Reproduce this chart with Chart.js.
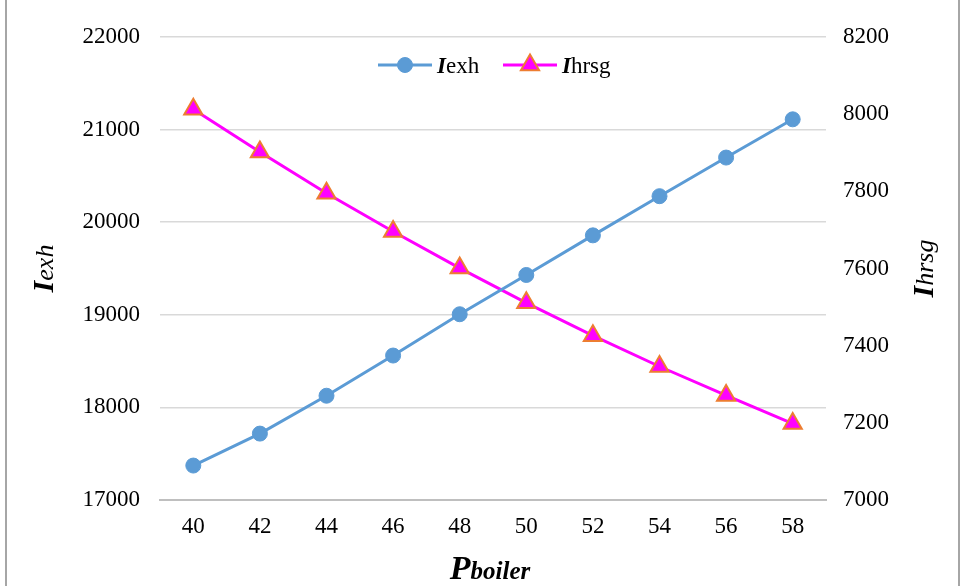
<!DOCTYPE html>
<html>
<head>
<meta charset="utf-8">
<script src="https://cdn.jsdelivr.net/npm/chart.js@4.4.1/dist/chart.umd.min.js"></script>
<style>
    html, body { margin: 0; padding: 0; background: #fff; }
    #wrap { position: relative; width: 963px; height: 586px; }
    #frame { position: absolute; left: 5px; top: -2px; width: 951px; height: 600px; border-left: 2px solid #a6a6a6; border-right: 2px solid #a6a6a6; pointer-events: none; }
</style>
</head>
<body>
<div id="wrap">
    <canvas id="chart" width="963" height="586"></canvas>
    <div id="frame"></div>
</div>
<script>
var pressures = ['40', '42', '44', '46', '48', '50', '52', '54', '56', '58'];
var iexhValues = [17372, 17717, 18126, 18560, 19006, 19430, 19858, 20281, 20698, 21111];
var ihrsgValues = [8013, 7902, 7795, 7696, 7601, 7511, 7426, 7346, 7271, 7198];
var leftTicks = [17000, 18000, 19000, 20000, 21000, 22000];
var rightTicks = [7000, 7200, 7400, 7600, 7800, 8000, 8200];

var serif = '"Liberation Serif", "Times New Roman", serif';

// draw a list of text runs with different fonts one after another
function drawRuns(ctx, runs, x, y, angle) {
    ctx.save();
    ctx.translate(x, y);
    ctx.rotate(angle);
    var total = 0;
    runs.forEach(function (r) {
        ctx.font = r.font;
        total += ctx.measureText(r.text).width;
    });
    var cx = -total / 2;
    ctx.textBaseline = 'alphabetic';
    ctx.textAlign = 'left';
    ctx.fillStyle = '#000';
    runs.forEach(function (r) {
        ctx.font = r.font;
        ctx.fillText(r.text, cx, 0);
        cx += ctx.measureText(r.text).width;
    });
    ctx.restore();
}

var titlesAndLegend = {
    id: 'titlesAndLegend',
    afterDraw: function (chart) {
        var ctx = chart.ctx;
        var area = chart.chartArea;
        var midY = (area.top + area.bottom) / 2;

        drawRuns(ctx, [
            { text: 'I', font: 'italic bold 30px ' + serif },
            { text: 'exh', font: 'italic 26px ' + serif }
        ], 53, midY, -Math.PI / 2);

        drawRuns(ctx, [
            { text: 'I', font: 'italic bold 30px ' + serif },
            { text: 'hrsg', font: 'italic 26px ' + serif }
        ], 933, midY, -Math.PI / 2);

        drawRuns(ctx, [
            { text: 'P', font: 'italic bold 34px ' + serif },
            { text: 'boiler', font: 'italic bold 25px ' + serif }
        ], 490, 579, 0);

        // legend inside plot area
        var items = [
            { ds: chart.data.datasets[0], x: 378 },
            { ds: chart.data.datasets[1], x: 503 }
        ];
        var ly = 65;
        items.forEach(function (it) {
            var ds = it.ds;
            var mx = it.x + 27;
            ctx.save();
            ctx.strokeStyle = ds.borderColor;
            ctx.lineWidth = ds.borderWidth;
            ctx.beginPath();
            ctx.moveTo(it.x, ly);
            ctx.lineTo(it.x + 54, ly);
            ctx.stroke();

            ctx.fillStyle = ds.pointBackgroundColor;
            ctx.strokeStyle = ds.pointBorderColor;
            ctx.lineWidth = ds.pointBorderWidth;
            ctx.beginPath();
            if (ds.pointStyle === 'circle') {
                ctx.arc(mx, ly, ds.pointRadius, 0, Math.PI * 2);
            } else {
                var r = ds.pointRadius;
                ctx.moveTo(mx, ly - r);
                ctx.lineTo(mx + r * Math.sqrt(3) / 2, ly + r / 2);
                ctx.lineTo(mx - r * Math.sqrt(3) / 2, ly + r / 2);
                ctx.closePath();
            }
            ctx.fill();
            ctx.stroke();
            ctx.restore();

            var rest = ds.label.slice(1);
            ctx.save();
            ctx.font = 'italic bold 23px ' + serif;
            var w1 = ctx.measureText('I').width;
            ctx.font = '23px ' + serif;
            var w2 = ctx.measureText(rest).width;
            ctx.restore();
            drawRuns(ctx, [
                { text: 'I', font: 'italic bold 23px ' + serif },
                { text: rest, font: '23px ' + serif }
            ], it.x + 59 + (w1 + w2) / 2, ly + 8, 0);
        });
    }
};

function plainNumber(value) {
    return String(value);
}

var ctx = document.getElementById('chart').getContext('2d');
new Chart(ctx, {
    type: 'line',
    data: {
        labels: pressures,
        datasets: [{
            label: 'Iexh',
            data: iexhValues,
            yAxisID: 'y',
            borderColor: '#5b9bd5',
            backgroundColor: '#5b9bd5',
            borderWidth: 3,
            pointStyle: 'circle',
            pointRadius: 7.5,
            pointBackgroundColor: '#5b9bd5',
            pointBorderColor: '#5b9bd5',
            pointBorderWidth: 1,
            tension: 0
        }, {
            label: 'Ihrsg',
            data: ihrsgValues,
            yAxisID: 'y1',
            borderColor: '#ff00ff',
            backgroundColor: '#ff00ff',
            borderWidth: 3,
            pointStyle: 'triangle',
            pointRadius: 10.5,
            pointBackgroundColor: '#ff00ff',
            pointBorderColor: '#ed7d31',
            pointBorderWidth: 2,
            tension: 0
        }]
    },
    options: {
        responsive: false,
        animation: false,
        layout: { padding: { top: 37, left: 0, right: 0, bottom: 0 } },
        plugins: {
            legend: { display: false },
            tooltip: { enabled: false }
        },
        scales: {
            x: {
                offset: true,
                grid: { display: false, drawTicks: false },
                border: { display: true, color: '#bfbfbf', width: 2 },
                ticks: { color: '#000', font: { family: serif, size: 23 }, padding: 13 },
                afterFit: function (scale) { scale.height = 86; }
            },
            y: {
                position: 'left',
                min: 17000,
                max: 22000,
                afterBuildTicks: function (scale) {
                    scale.ticks = leftTicks.map(function (v) { return { value: v }; });
                },
                grid: { color: '#d9d9d9', lineWidth: 1.5, drawTicks: false },
                border: { display: false },
                ticks: { color: '#000', font: { family: serif, size: 23 }, padding: 20, callback: plainNumber },
                afterFit: function (scale) { scale.width = 160; }
            },
            y1: {
                position: 'right',
                min: 7000,
                max: 8200,
                afterBuildTicks: function (scale) {
                    scale.ticks = rightTicks.map(function (v) { return { value: v }; });
                },
                grid: { display: false, drawTicks: false },
                border: { display: false },
                ticks: { color: '#000', font: { family: serif, size: 23 }, padding: 17, callback: plainNumber },
                afterFit: function (scale) { scale.width = 137; }
            }
        }
    },
    plugins: [titlesAndLegend]
});
</script>
</body>
</html>
